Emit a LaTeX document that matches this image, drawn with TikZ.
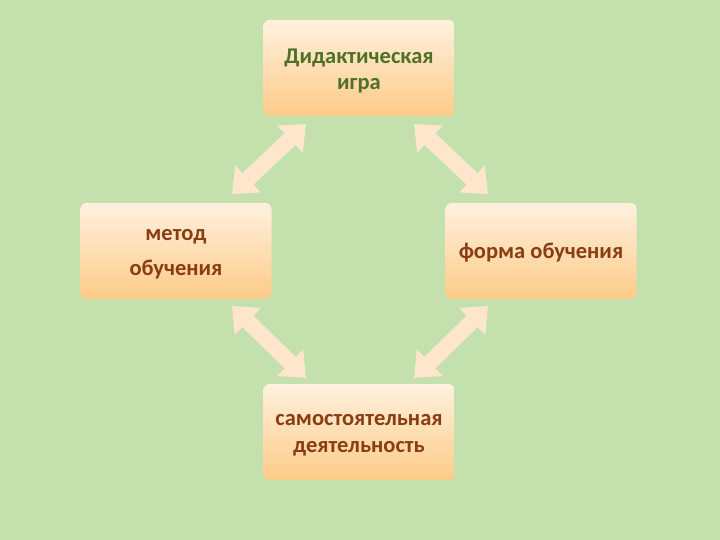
\documentclass[tikz,border=0pt]{standalone}
\usepackage{fontspec}
\setmainfont{Carlito}
\usetikzlibrary{arrows.meta}

\definecolor{bgc}{HTML}{C3E0AD}
\definecolor{boxtop}{HTML}{FFF1DE}
\definecolor{boxbot}{HTML}{FDCB88}
\definecolor{arrc}{HTML}{FDE6CB}
\definecolor{greentxt}{HTML}{4F7026}
\definecolor{browntxt}{HTML}{8A3C12}

\tikzset{
  box/.style={rounded corners=6pt, minimum width=191pt, minimum height=96pt,
    top color=boxtop, bottom color=boxbot, draw=none},
  txt/.style={align=center, text=browntxt, font=\bfseries\fontsize{22.5}{26}\selectfont},
  dblarrow/.style={line width=16pt, arrc,
    {Triangle[length=22pt,width=36pt]}-{Triangle[length=22pt,width=36pt]}}
}

\begin{document}
\begin{tikzpicture}[x=1pt,y=-1pt]
\fill[bgc] (0,0) rectangle (720,540);
\useasboundingbox (0,0) rectangle (720,540);
% boxes
\node[box] (game) at (359,68) {};
\node[box] (method) at (176,251) {};
\node[box] (form) at (541,251) {};
\node[box] (self) at (359,432) {};
% texts
\node[txt, text=greentxt] (gametxt) at ([yshift=-3pt]game.center) {Дидактическая\\игра};
\node[txt, font=\bfseries\fontsize{22.5}{35}\selectfont] (methodtxt) at ([yshift=-3pt]method.center) {метод\\обучения};
\node[txt] (formtxt) at ([yshift=-2pt]form.center) {форма обучения};
\node[txt, font=\bfseries\fontsize{22.5}{27}\selectfont] (selftxt) at ([yshift=-3pt]self.center) {самостоятельная\\деятельность};
% arrow ends
\coordinate (tl1) at (232,194); \coordinate (tl2) at (306,124);
\coordinate (tr1) at (414,124); \coordinate (tr2) at (488,194);
\coordinate (bl1) at (232,306); \coordinate (bl2) at (306,378);
\coordinate (br1) at (414,378); \coordinate (br2) at (488,306);
\draw[dblarrow] (tl1) -- (tl2);
\draw[dblarrow] (tr1) -- (tr2);
\draw[dblarrow] (bl1) -- (bl2);
\draw[dblarrow] (br1) -- (br2);
\end{tikzpicture}
\end{document}
